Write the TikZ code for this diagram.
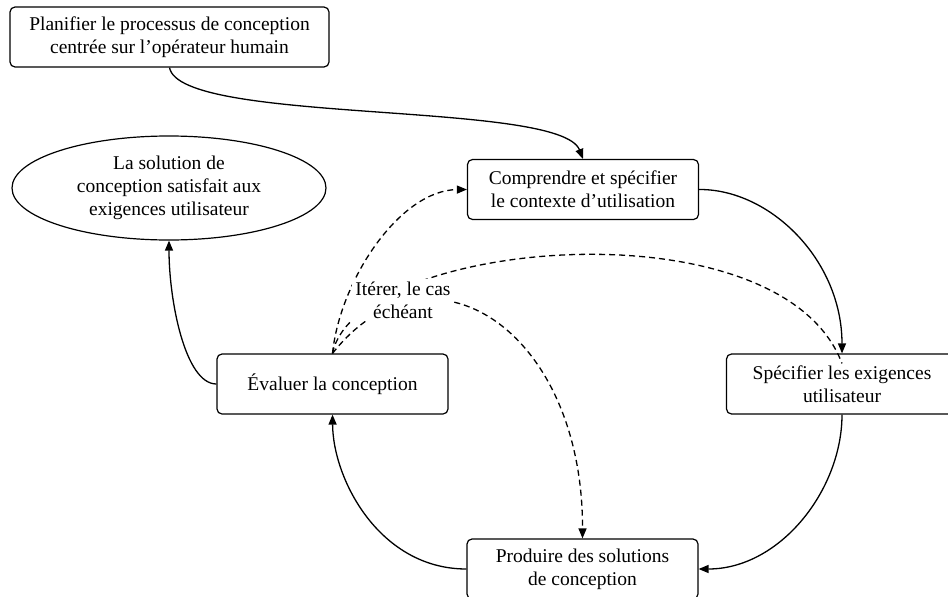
\documentclass[tikz,border=0pt]{standalone}
\usepackage{fontspec}
\setmainfont{Liberation Serif}
\usetikzlibrary{arrows.meta,shapes.geometric}
\tikzset{
  box/.style={draw, line width=1.2pt, rounded corners=5pt, minimum width=231pt, minimum height=60pt, inner sep=0pt, align=center, font=\fontsize{19.5}{23}\selectfont},
  oval/.style={draw, ellipse, line width=1.2pt, minimum width=314pt, minimum height=104pt, inner sep=0pt, align=center, font=\fontsize{19.5}{23}\selectfont},
  conn/.style={line width=1.3pt, -{Triangle[length=10pt,width=8pt]}},
  dconn/.style={line width=1.3pt, dash pattern=on 6pt off 4pt, -{Triangle[length=10pt,width=8pt]}},
  dline/.style={line width=1.3pt, dash pattern=on 6pt off 4pt},
  lbl/.style={fill=white, inner sep=3pt, align=center, font=\fontsize{19.5}{23}\selectfont}
}
\begin{document}
\begin{tikzpicture}[x=1pt,y=-1pt]
\clip (0,0) rectangle (948,597);
\fill[white] (0,0) rectangle (948,597);
\node[box, minimum width=319pt] (plan) at (169.5,37) {Planifier le processus de conception\\centrée sur l’opérateur humain};
\node[oval] (sol) at (169,188) {La solution de\\conception satisfait aux\\exigences utilisateur};
\node[box] (comp) at (583,189.5) {Comprendre et spécifier\\le contexte d’utilisation};
\node[box] (spec) at (842,384) {Spécifier les exigences\\utilisateur};
\node[box] (eval) at (332.5,384) {Évaluer la conception};
\node[box] (prod) at (582.5,569) {Produire des solutions\\de conception};

\draw[conn] (plan.south) .. controls (180,125) and (560,100) .. (comp.north);
\draw[conn] (comp.east) .. controls (770,189) and (842,260) .. (spec.north);
\draw[conn] (spec.south) .. controls (842,490) and (780,569) .. (prod.east);
\draw[conn] (prod.west) .. controls (380,569) and (333,480) .. (eval.south);
\draw[conn] (eval.west) .. controls (185,384) and (169,300) .. (sol.south);

\draw[dconn] (eval.north) .. controls (340,280) and (400,190) .. (comp.west);
\draw[dline] (eval.north) .. controls (355,240) and (780,200) .. ([yshift=-10pt]spec.north);
\draw[dconn] (eval.north) .. controls (430,230) and (583,330) .. (prod.north);

\node[lbl] (iter) at (403,300) {Itérer, le cas\\échéant};
\end{tikzpicture}
\end{document}
